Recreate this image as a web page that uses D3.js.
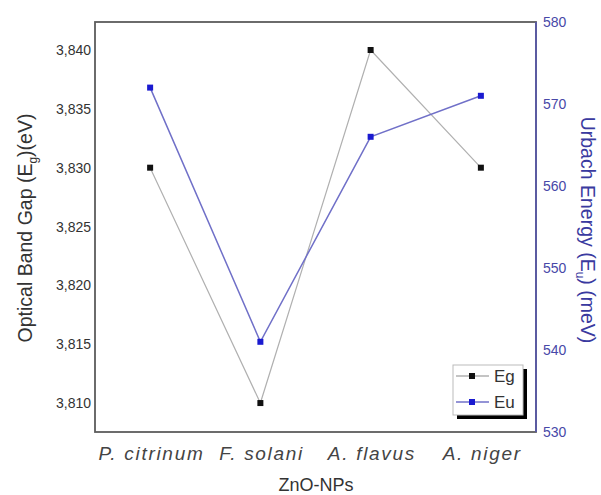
<!DOCTYPE html>
<html><head><meta charset="utf-8">
<script src="https://cdn.jsdelivr.net/npm/d3@7"></script>
<style>body{margin:0;background:#fff;}svg{display:block;font-family:"Liberation Sans",Arial,sans-serif;}</style>
</head><body>
<script>
const categories = ["P. citrinum", "F. solani", "A. flavus", "A. niger"];
const egValues = [3.830, 3.810, 3.840, 3.830];
const euValues = [572, 541, 566, 571];
const leftTicks = [3.810, 3.815, 3.820, 3.825, 3.830, 3.835, 3.840];
const rightTicks = [530, 540, 550, 560, 570, 580];

const W = 601, H = 495;
const m = {left: 95, right: 536, top: 22, bottom: 432};
const svg = d3.select("body").append("svg").attr("width", W).attr("height", H);

const x = d3.scalePoint().domain(categories).range([m.left, m.right]).padding(0.5);
const yL = d3.scaleLinear().domain([3.80754, 3.84238]).range([m.bottom, m.top]);
const yR = d3.scaleLinear().domain([530, 580]).range([m.bottom, m.top]);

// frame
svg.append("rect").attr("x", m.left).attr("y", m.top).attr("width", m.right - m.left).attr("height", m.bottom - m.top)
  .attr("fill", "none").attr("stroke", "#5c5c5c").attr("stroke-width", 1.8);
svg.append("line").attr("x1", m.right).attr("x2", m.right).attr("y1", m.top).attr("y2", m.bottom)
  .attr("stroke", "#5a5aa8").attr("stroke-width", 1.8);

// left axis
const axL = svg.append("g").attr("transform", `translate(${m.left},0)`)
  .call(d3.axisLeft(yL).tickValues(leftTicks).tickSize(0).tickPadding(4).tickFormat(d => d3.format(".3f")(d).replace(".", ",")));
axL.select(".domain").remove();
axL.selectAll("text").attr("font-size", 14).attr("fill", "#333").attr("font-family", "Liberation Sans, Arial, sans-serif");

// right axis
const axR = svg.append("g").attr("transform", `translate(${m.right},0)`)
  .call(d3.axisRight(yR).tickValues(rightTicks).tickSize(0).tickPadding(7).tickFormat(d3.format("d")));
axR.select(".domain").remove();
axR.selectAll("text").attr("font-size", 14).attr("fill", "#4848a8").attr("font-family", "Liberation Sans, Arial, sans-serif");

// bottom axis
const axB = svg.append("g").attr("transform", `translate(0,${m.bottom})`)
  .call(d3.axisBottom(x).tickSize(0).tickPadding(15));
axB.select(".domain").remove();
axB.selectAll("text").attr("font-size", 19).attr("font-style", "italic").attr("fill", "#444")
  .attr("letter-spacing", "1.7px").attr("dx", "0.8px").attr("font-family", "Liberation Sans, Arial, sans-serif");

// titles
const lt = svg.append("text").attr("transform", "translate(32,228) rotate(-90)").attr("text-anchor", "middle")
  .attr("font-size", 19.5).attr("fill", "#333");
lt.append("tspan").text("Optical Band Gap (E");
lt.append("tspan").text("g").attr("font-size", 12).attr("dy", 5);
lt.append("tspan").text(")(eV)").attr("dy", -5);

const rt = svg.append("text").attr("transform", "translate(581,230) rotate(90)").attr("text-anchor", "middle")
  .attr("font-size", 19.5).attr("fill", "#3a3aa0");
rt.append("tspan").text("Urbach Energy (E");
rt.append("tspan").text("u").attr("font-size", 12).attr("dy", 5);
rt.append("tspan").text(") (meV)").attr("dy", -5);

svg.append("text").attr("x", 316).attr("y", 491).attr("text-anchor", "middle").attr("font-size", 18).attr("fill", "#333").text("ZnO-NPs");

// series
const egLine = d3.line().x((d, i) => x(categories[i])).y(d => yL(d));
const euLine = d3.line().x((d, i) => x(categories[i])).y(d => yR(d));
svg.append("path").attr("d", egLine(egValues)).attr("fill", "none").attr("stroke", "#b0b0b0").attr("stroke-width", 1.2);
svg.append("path").attr("d", euLine(euValues)).attr("fill", "none").attr("stroke", "#7070c8").attr("stroke-width", 1.5);
const s = 6;
svg.selectAll(".eg").data(egValues).enter().append("rect")
  .attr("x", (d, i) => x(categories[i]) - s / 2).attr("y", d => yL(d) - s / 2).attr("width", s).attr("height", s).attr("fill", "#111");
svg.selectAll(".eu").data(euValues).enter().append("rect")
  .attr("x", (d, i) => x(categories[i]) - s / 2).attr("y", d => yR(d) - s / 2).attr("width", s).attr("height", s).attr("fill", "#1a1ad0");

// legend
const lg = svg.append("g");
lg.append("rect").attr("x", 457).attr("y", 369).attr("width", 70).attr("height", 50).attr("fill", "#000");
lg.append("rect").attr("x", 453).attr("y", 365).attr("width", 70).attr("height", 50).attr("fill", "#fff").attr("stroke", "#bbb").attr("stroke-width", 1);
const items = [{label: "Eg", c: "#b0b0b0", m: "#111", y: 376}, {label: "Eu", c: "#7070c8", m: "#1a1ad0", y: 402}];
items.forEach(it => {
  lg.append("line").attr("x1", 456).attr("x2", 489).attr("y1", it.y).attr("y2", it.y).attr("stroke", it.c).attr("stroke-width", 1.3);
  lg.append("rect").attr("x", 472 - 3).attr("y", it.y - 3).attr("width", 6).attr("height", 6).attr("fill", it.m);
  lg.append("text").attr("x", 494).attr("y", it.y + 6).attr("font-size", 17).attr("fill", "#333").text(it.label);
});
</script>
</body></html>
